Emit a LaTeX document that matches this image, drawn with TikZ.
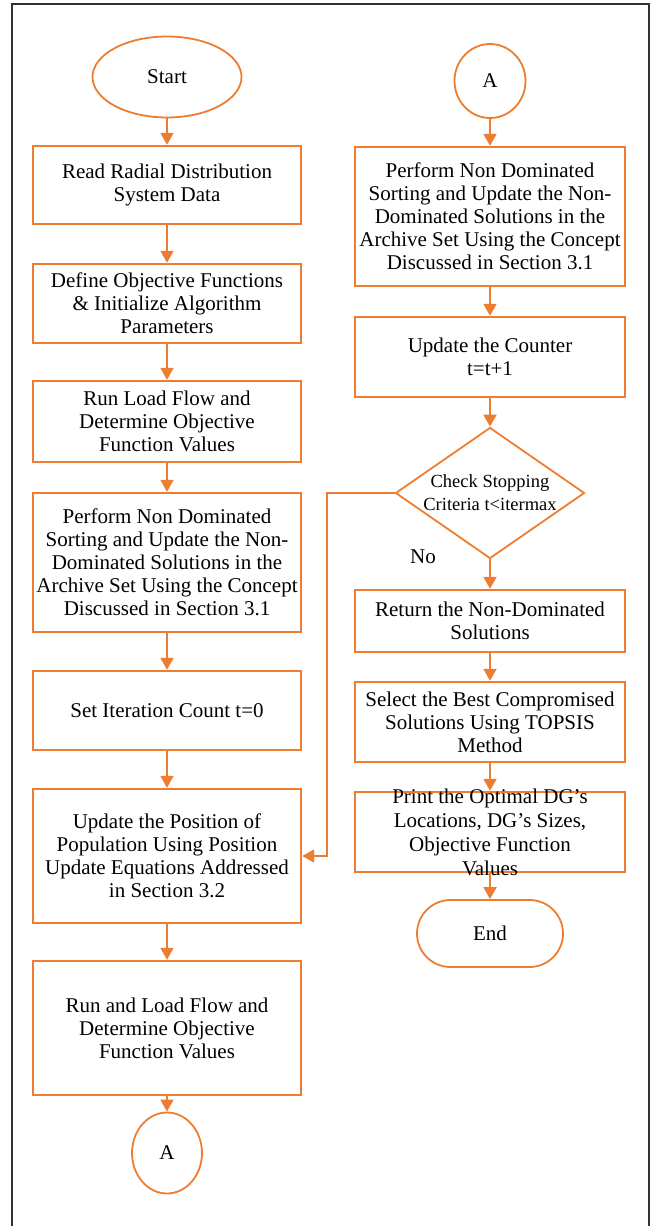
\documentclass[tikz,border=0pt]{standalone}
\usepackage{fontspec}
\setmainfont{Liberation Serif}
\usetikzlibrary{shapes.geometric,shapes.misc,arrows.meta}
\definecolor{flowor}{HTML}{ED7D31}

\begin{document}
\begin{tikzpicture}[x=1pt,y=-1pt,
  box/.style={draw=flowor,line width=2.4pt,rectangle,align=center,inner sep=2pt,font=\fontsize{21}{23}\selectfont},
  term/.style={draw=flowor,line width=1.8pt,ellipse,inner sep=0pt,font=\fontsize{21}{23}\selectfont},
  endbox/.style={draw=flowor,line width=1.8pt,rounded rectangle,inner sep=0pt,font=\fontsize{21}{23}\selectfont},
  decision/.style={draw=flowor,line width=1.8pt,diamond,inner sep=0pt,minimum width=189pt,minimum height=131pt},
  arr/.style={draw=flowor,line width=1.8pt,-{Triangle[width=13pt,length=12pt]}}]
\useasboundingbox (0,0) rectangle (652,1226);
% Frame
\draw[line width=1.5pt,black!80] (12,1226) -- (12,4) -- (649,4) -- (649,1226);

% Left column
\node[term,minimum width=149pt,minimum height=81pt] (start) at (167,77) {Start};
\node[box,minimum width=268pt,minimum height=78pt] (read) at (167,185) {Read Radial Distribution\\System Data};
\node[box,minimum width=268pt,minimum height=79pt] (define) at (167,303.5) {Define Objective Functions\\\& Initialize Algorithm\\Parameters};
\node[box,minimum width=268pt,minimum height=81pt] (loadflow) at (167,421.5) {Run Load Flow and\\Determine Objective\\Function Values};
\node[box,minimum width=268pt,minimum height=139pt] (sortleft) at (167,562.5) {Perform Non Dominated\\Sorting and Update the Non-\\Dominated Solutions in the\\Archive Set Using the Concept\\Discussed in Section 3.1};
\node[box,minimum width=268pt,minimum height=79pt] (setcount) at (167,710.5) {Set Iteration Count t=0};
\node[box,minimum width=268pt,minimum height=134pt] (position) at (167,856) {Update the Position of\\Population Using Position\\Update Equations Addressed\\in Section 3.2};
\node[box,minimum width=268pt,minimum height=134pt] (loadflowb) at (167,1028) {Run and Load Flow and\\Determine Objective\\Function Values};
\node[term,minimum width=70pt,minimum height=81pt] (conleft) at (167,1153) {A};

% Right column
\node[term,minimum width=71pt,minimum height=74pt] (conright) at (490,81) {A};
\node[box,minimum width=270pt,minimum height=139pt] (sortright) at (490,216.5) {Perform Non Dominated\\Sorting and Update the Non-\\Dominated Solutions in the\\Archive Set Using the Concept\\Discussed in Section 3.1};
\node[box,minimum width=270pt,minimum height=80pt] (counter) at (490,357) {Update the Counter\\t=t+1};
\node[decision,label={[align=center,font=\fontsize{18.5}{23}\selectfont]center:{Check Stopping\\Criteria t<itermax}}] (check) at (490,493) {};
\node[font=\fontsize{21}{23}\selectfont] (no) at (423,557) {No};
\node[box,minimum width=270pt,minimum height=62pt] (return) at (490,621) {Return the Non-Dominated\\Solutions};
\node[box,minimum width=270pt,minimum height=80pt] (select) at (490,722) {Select the Best Compromised\\Solutions Using TOPSIS\\Method};
\node[box,minimum width=270pt,minimum height=80pt,label={[align=center,font=\fontsize{21}{24}\selectfont]center:{Print the Optimal DG's\\Locations, DG's Sizes,\\Objective Function\\Values}}] (print) at (490,832) {};
\node[endbox,minimum width=146pt,minimum height=67pt] (finish) at (490,933.5) {End};

% Arrows
\draw[arr] (start) -- (read);
\draw[arr] (read) -- (define);
\draw[arr] (define) -- (loadflow);
\draw[arr] (loadflow) -- (sortleft);
\draw[arr] (sortleft) -- (setcount);
\draw[arr] (setcount) -- (position);
\draw[arr] (position) -- (loadflowb);
\draw[arr] (loadflowb) -- (conleft);
\draw[arr] (conright) -- (sortright);
\draw[arr] (sortright) -- (counter);
\draw[arr] (counter) -- (check);
\draw[arr] (check) -- (return);
\draw[arr] (return) -- (select);
\draw[arr] (select) -- (print);
\draw[arr] (print) -- (finish);
\draw[arr] (check.west) -- ++(-68,0) |- (position.east);
\end{tikzpicture}
\end{document}
